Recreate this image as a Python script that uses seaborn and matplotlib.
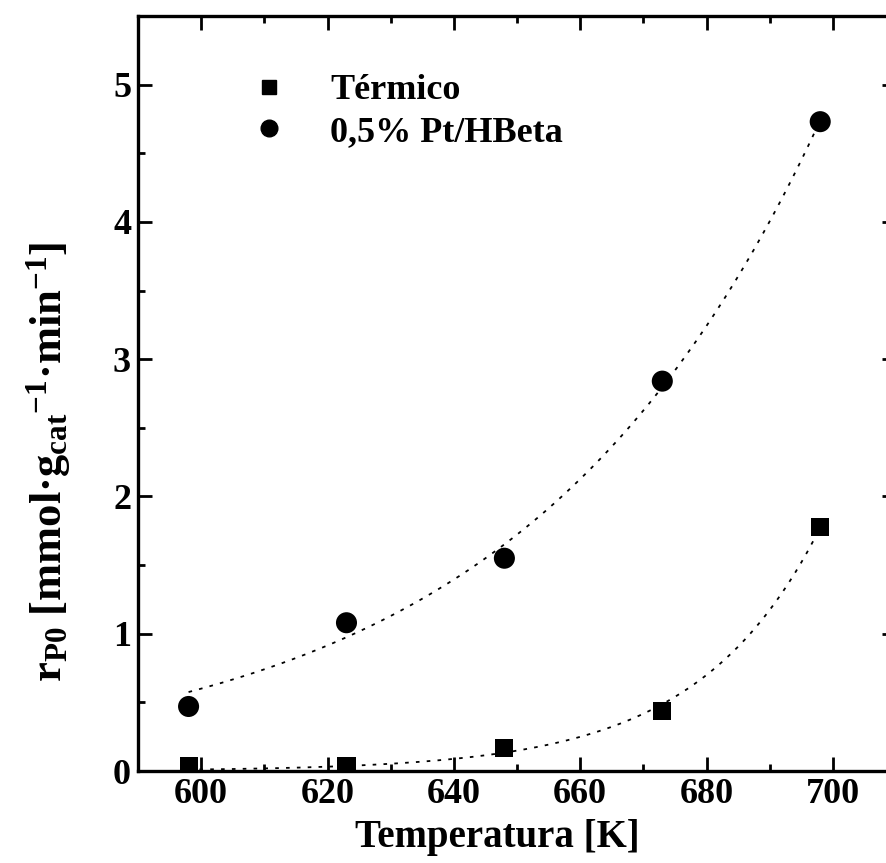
import numpy as np
import pandas as pd
import seaborn as sns
import matplotlib
matplotlib.use("Agg")
import matplotlib.pyplot as plt
from matplotlib.ticker import MultipleLocator

# data
temp = [598, 623, 648, 673, 698]
r_termico = [0.035, 0.035, 0.17, 0.44, 1.78]
r_pt = [0.47, 1.08, 1.55, 2.84, 4.73]
lbl_termico = "Térmico"
lbl_pt = "0,5% Pt/HBeta"

sns.set_style("ticks")
plt.rcParams["font.family"] = ["Liberation Serif", "DejaVu Serif"]
plt.rcParams["font.weight"] = "bold"
plt.rcParams["mathtext.fontset"] = "custom"
plt.rcParams["mathtext.rm"] = "Liberation Serif:bold"
plt.rcParams["mathtext.it"] = "Liberation Serif:bold"
plt.rcParams["mathtext.bf"] = "Liberation Serif:bold"
plt.rcParams["axes.unicode_minus"] = False
for k in ("text.color", "axes.labelcolor", "xtick.color", "ytick.color",
          "axes.edgecolor"):
    plt.rcParams[k] = "black"

df = pd.DataFrame({"T": temp * 2,
                   "r": r_termico + r_pt,
                   "serie": [lbl_termico] * 5 + [lbl_pt] * 5})


# exponential fit (approx. least squares on y via weighted log fit)
def expfit(x, y):
    x = np.asarray(x, float)
    y = np.asarray(y, float)
    b, a = np.polyfit(x - 600, np.log(y), 1, w=y)
    xs = np.linspace(x.min(), x.max(), 200)
    return xs, np.exp(a + b * (xs - 600))


fig = plt.figure(figsize=(8.86, 8.63), dpi=100)
ax = fig.add_axes([0.1558, 0.1066, 0.8555, 0.8749])

for y in (r_termico, r_pt):
    xs, ys = expfit(temp, y)
    sns.lineplot(x=xs, y=ys, ax=ax, color="black", lw=1.3,
                 linestyle=(0, (2, 4)), legend=False)

sns.scatterplot(data=df, x="T", y="r", style="serie", hue="serie",
                markers={lbl_termico: "s", lbl_pt: "o"},
                palette={lbl_termico: "black", lbl_pt: "black"},
                size="serie", sizes={lbl_termico: 170, lbl_pt: 230},
                edgecolor="black", linewidth=0, ax=ax, legend=False)

# legend handles
h1, = ax.plot([], [], "s", color="black", ms=10)
h2, = ax.plot([], [], "o", color="black", ms=12)
ax.legend([h1, h2], [lbl_termico, lbl_pt], loc="upper left",
          bbox_to_anchor=(0.106, 0.966), frameon=False,
          handletextpad=1.2, labelspacing=0.22, handlelength=1.0,
          prop={"weight": "bold", "size": 26})

ax.set_xlim(590, 710)
ax.set_ylim(0, 5.5)
ax.xaxis.set_major_locator(MultipleLocator(20))
ax.xaxis.set_minor_locator(MultipleLocator(10))
ax.yaxis.set_major_locator(MultipleLocator(1))
ax.yaxis.set_minor_locator(MultipleLocator(0.5))
ax.tick_params(which="both", direction="in", top=True, right=True,
               width=2, labelsize=26, pad=5)
ax.tick_params(which="major", length=10)
ax.tick_params(which="minor", length=5)
for s in ax.spines.values():
    s.set_linewidth(2.4)

ax.set_xlabel("Temperatura [K]", fontsize=28, fontweight="bold")
ax.xaxis.set_label_coords(0.474, -0.063)
ax.set_ylabel(r"r$_{\mathregular{P0}}$ [mmol·g$_{\mathregular{cat}}$$^{\mathregular{ -1}}$·min$^{\mathregular{-1}}$]",
              fontsize=32, fontweight="bold")
ax.yaxis.set_label_coords(-0.086, 0.41)

fig.savefig("out.png", dpi=100)
